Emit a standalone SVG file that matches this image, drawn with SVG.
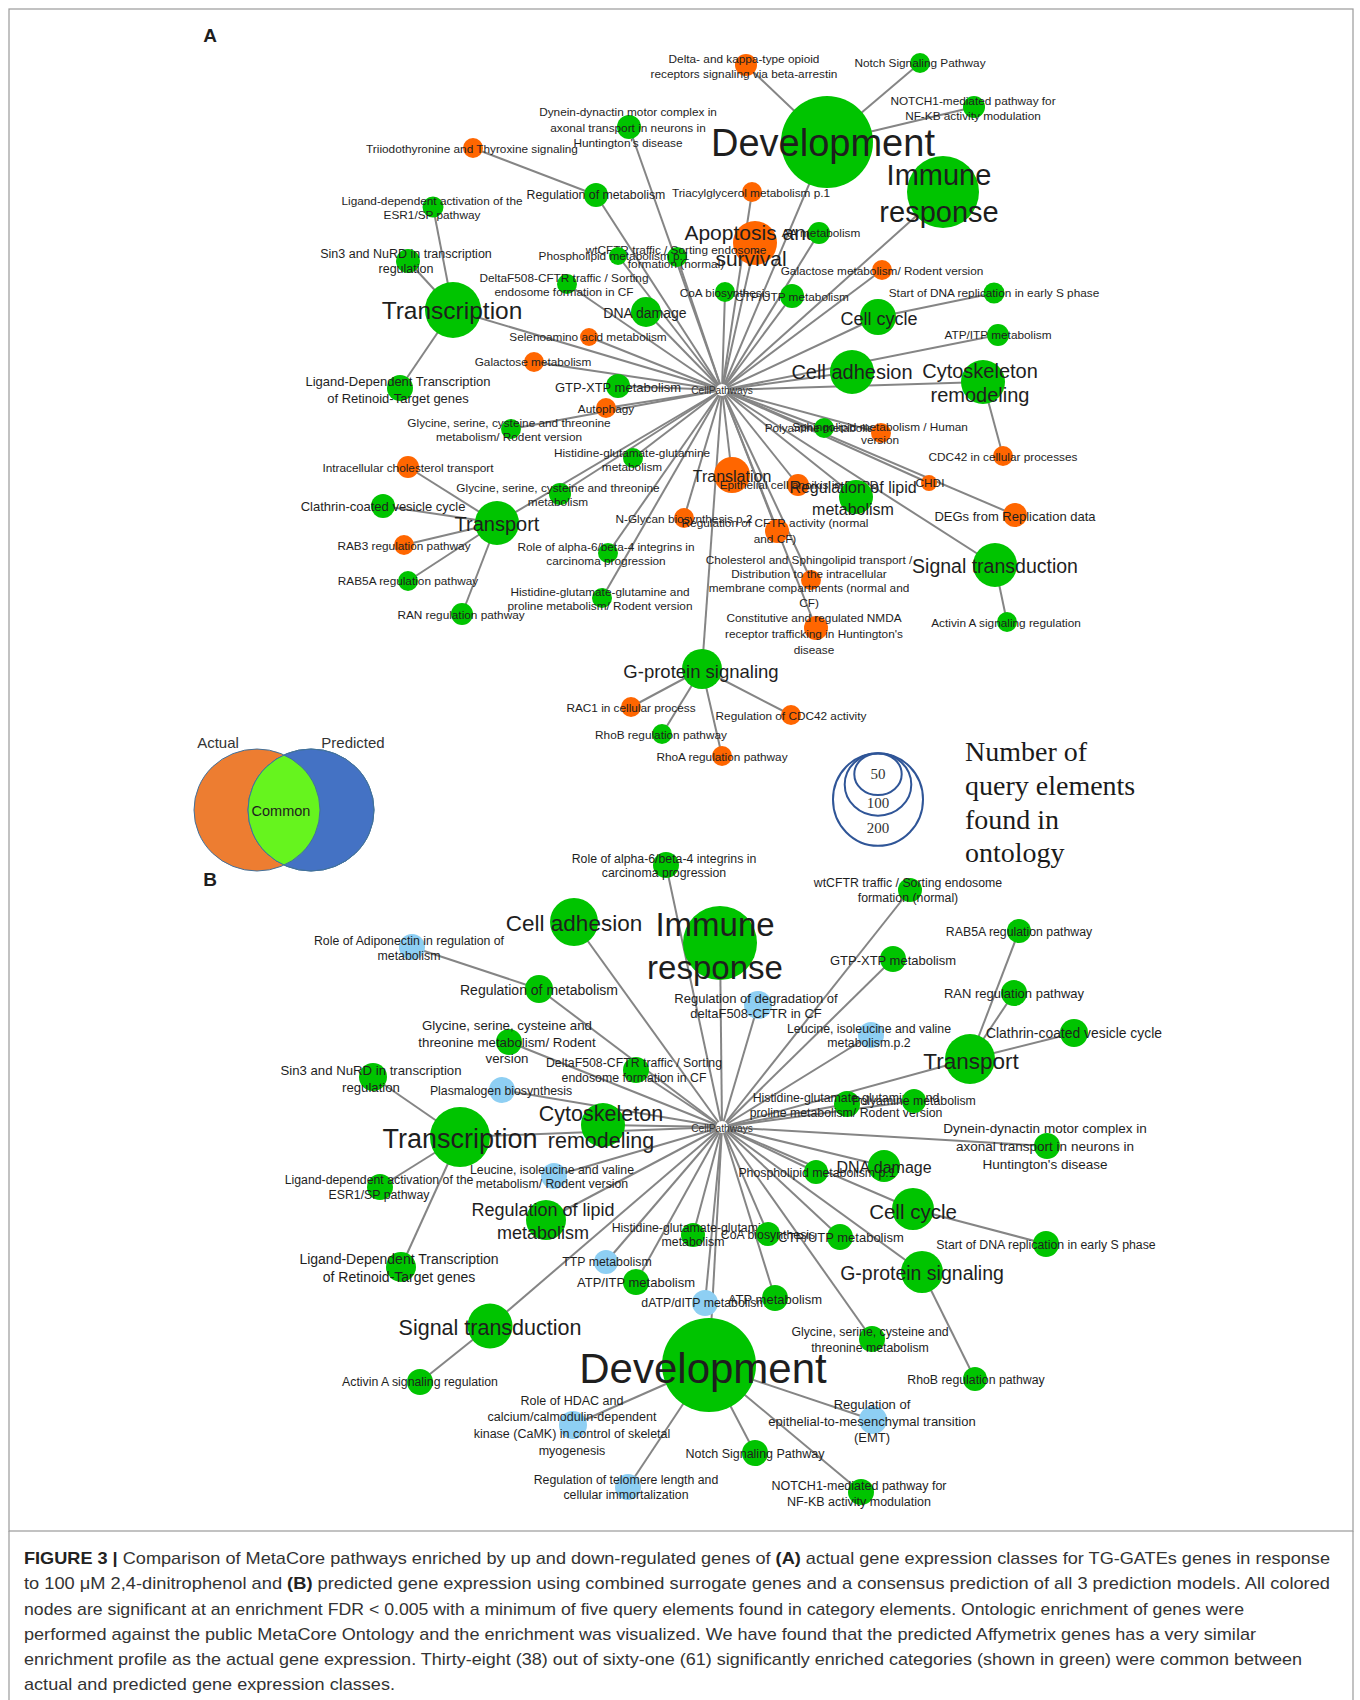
<svg xmlns="http://www.w3.org/2000/svg" width="1360" height="1700" viewBox="0 0 1360 1700">
<defs>
<style>
.e{stroke:#858585;stroke-width:2;fill:none}
.g{fill:#00C400}
.o{fill:#FF6600}
.b{fill:#8ECFF3}
.hub{fill:#ffffff}
text,tspan{font-family:"Liberation Sans",Arial,sans-serif;dominant-baseline:central}
text{fill:#1e1e1e;text-anchor:middle}
.s{font-size:11.8px}
.t{font-size:12.3px}
.hl{font-size:10.2px;fill:#333}
.cap{font-size:17px;fill:#333;text-anchor:start}
.lg{font-family:"Liberation Serif","Times New Roman",serif;font-size:28px;text-anchor:start;fill:#1a1a1a}
.ln{font-family:"Liberation Serif","Times New Roman",serif;font-size:15px;fill:#333}
.ring{fill:none;stroke:#2F5597;stroke-width:2}
.vl{font-size:15px;fill:#333}
</style>
<clipPath id="blueClip"><ellipse cx="311" cy="810" rx="63" ry="61"/></clipPath>
</defs>
<rect x="0" y="0" width="1360" height="1700" fill="#ffffff"/>
<g id="frame" stroke="#9a9a9a" stroke-width="1.2" fill="none">
<rect x="9" y="9" width="1344" height="1522"/>
<line x1="9" y1="1531" x2="9" y2="1700"/>
<line x1="1353" y1="1531" x2="1353" y2="1700"/>
</g>
<text x="210" y="35" font-size="19" font-weight="bold">A</text>
<text x="210" y="879" font-size="19" font-weight="bold">B</text>

<g id="connectors">
<line class="e" x1="722" y1="390" x2="827" y2="142"/>
<line class="e" x1="722" y1="390" x2="943" y2="192"/>
<line class="e" x1="722" y1="390" x2="453" y2="310"/>
<line class="e" x1="722" y1="390" x2="755" y2="243"/>
<line class="e" x1="722" y1="390" x2="497" y2="523"/>
<line class="e" x1="722" y1="390" x2="852" y2="372"/>
<line class="e" x1="722" y1="390" x2="983" y2="382"/>
<line class="e" x1="722" y1="390" x2="995" y2="565"/>
<line class="e" x1="722" y1="390" x2="702" y2="669"/>
<line class="e" x1="722" y1="390" x2="878" y2="317"/>
<line class="e" x1="722" y1="390" x2="732" y2="475"/>
<line class="e" x1="722" y1="390" x2="856" y2="497"/>
<line class="e" x1="722" y1="390" x2="646" y2="312"/>
<line class="e" x1="722" y1="390" x2="629" y2="127"/>
<line class="e" x1="722" y1="390" x2="596" y2="195"/>
<line class="e" x1="722" y1="390" x2="567" y2="284"/>
<line class="e" x1="722" y1="390" x2="618" y2="256"/>
<line class="e" x1="722" y1="390" x2="677" y2="257"/>
<line class="e" x1="722" y1="390" x2="752" y2="192"/>
<line class="e" x1="722" y1="390" x2="819" y2="233"/>
<line class="e" x1="722" y1="390" x2="882" y2="270"/>
<line class="e" x1="722" y1="390" x2="725" y2="292"/>
<line class="e" x1="722" y1="390" x2="792" y2="296"/>
<line class="e" x1="722" y1="390" x2="998" y2="335"/>
<line class="e" x1="722" y1="390" x2="589" y2="337"/>
<line class="e" x1="722" y1="390" x2="534" y2="362"/>
<line class="e" x1="722" y1="390" x2="618" y2="386"/>
<line class="e" x1="722" y1="390" x2="606" y2="408"/>
<line class="e" x1="722" y1="390" x2="511" y2="429"/>
<line class="e" x1="722" y1="390" x2="633" y2="458"/>
<line class="e" x1="722" y1="390" x2="560" y2="494"/>
<line class="e" x1="722" y1="390" x2="684" y2="518"/>
<line class="e" x1="722" y1="390" x2="608" y2="553"/>
<line class="e" x1="722" y1="390" x2="602" y2="598"/>
<line class="e" x1="722" y1="390" x2="824" y2="428"/>
<line class="e" x1="722" y1="390" x2="881" y2="433"/>
<line class="e" x1="722" y1="390" x2="798" y2="485"/>
<line class="e" x1="722" y1="390" x2="929" y2="483"/>
<line class="e" x1="722" y1="390" x2="1015" y2="515"/>
<line class="e" x1="722" y1="390" x2="777" y2="531"/>
<line class="e" x1="722" y1="390" x2="811" y2="580"/>
<line class="e" x1="722" y1="390" x2="816" y2="628"/>
<line class="e" x1="827" y1="142" x2="746" y2="65"/>
<line class="e" x1="827" y1="142" x2="920" y2="63"/>
<line class="e" x1="827" y1="142" x2="974" y2="107"/>
<line class="e" x1="596" y1="195" x2="473" y2="148"/>
<line class="e" x1="453" y1="310" x2="433" y2="207"/>
<line class="e" x1="453" y1="310" x2="408" y2="261"/>
<line class="e" x1="453" y1="310" x2="400" y2="388"/>
<line class="e" x1="497" y1="523" x2="408" y2="467"/>
<line class="e" x1="497" y1="523" x2="383" y2="506"/>
<line class="e" x1="497" y1="523" x2="404" y2="545"/>
<line class="e" x1="497" y1="523" x2="408" y2="581"/>
<line class="e" x1="497" y1="523" x2="462" y2="614"/>
<line class="e" x1="878" y1="317" x2="994" y2="293"/>
<line class="e" x1="983" y1="382" x2="1003" y2="456"/>
<line class="e" x1="995" y1="565" x2="1007" y2="622"/>
<line class="e" x1="702" y1="669" x2="631" y2="707"/>
<line class="e" x1="702" y1="669" x2="791" y2="715"/>
<line class="e" x1="702" y1="669" x2="662" y2="734"/>
<line class="e" x1="702" y1="669" x2="722" y2="756"/>
<line class="e" x1="722" y1="1127" x2="709" y2="1365"/>
<line class="e" x1="722" y1="1127" x2="720" y2="943"/>
<line class="e" x1="722" y1="1127" x2="460" y2="1137"/>
<line class="e" x1="722" y1="1127" x2="970" y2="1059"/>
<line class="e" x1="722" y1="1127" x2="574" y2="922"/>
<line class="e" x1="722" y1="1127" x2="603" y2="1125"/>
<line class="e" x1="722" y1="1127" x2="490" y2="1326"/>
<line class="e" x1="722" y1="1127" x2="913" y2="1209"/>
<line class="e" x1="722" y1="1127" x2="922" y2="1272"/>
<line class="e" x1="722" y1="1127" x2="546" y2="1220"/>
<line class="e" x1="722" y1="1127" x2="884" y2="1166"/>
<line class="e" x1="722" y1="1127" x2="666" y2="865"/>
<line class="e" x1="722" y1="1127" x2="539" y2="989"/>
<line class="e" x1="722" y1="1127" x2="509" y2="1042"/>
<line class="e" x1="722" y1="1127" x2="502" y2="1090"/>
<line class="e" x1="722" y1="1127" x2="636" y2="1070"/>
<line class="e" x1="722" y1="1127" x2="910" y2="890"/>
<line class="e" x1="722" y1="1127" x2="893" y2="959"/>
<line class="e" x1="722" y1="1127" x2="758" y2="1005"/>
<line class="e" x1="722" y1="1127" x2="871" y2="1035"/>
<line class="e" x1="722" y1="1127" x2="847" y2="1104"/>
<line class="e" x1="722" y1="1127" x2="914" y2="1101"/>
<line class="e" x1="722" y1="1127" x2="1047" y2="1146"/>
<line class="e" x1="722" y1="1127" x2="816" y2="1172"/>
<line class="e" x1="722" y1="1127" x2="693" y2="1235"/>
<line class="e" x1="722" y1="1127" x2="768" y2="1234"/>
<line class="e" x1="722" y1="1127" x2="840" y2="1237"/>
<line class="e" x1="722" y1="1127" x2="636" y2="1282"/>
<line class="e" x1="722" y1="1127" x2="606" y2="1262"/>
<line class="e" x1="722" y1="1127" x2="705" y2="1303"/>
<line class="e" x1="722" y1="1127" x2="775" y2="1298"/>
<line class="e" x1="722" y1="1127" x2="872" y2="1339"/>
<line class="e" x1="722" y1="1127" x2="554" y2="1176"/>
<line class="e" x1="539" y1="989" x2="412" y2="947"/>
<line class="e" x1="460" y1="1137" x2="373" y2="1077"/>
<line class="e" x1="460" y1="1137" x2="380" y2="1187"/>
<line class="e" x1="460" y1="1137" x2="401" y2="1267"/>
<line class="e" x1="970" y1="1059" x2="1019" y2="931"/>
<line class="e" x1="970" y1="1059" x2="1014" y2="993"/>
<line class="e" x1="970" y1="1059" x2="1074" y2="1033"/>
<line class="e" x1="913" y1="1209" x2="1046" y2="1244"/>
<line class="e" x1="922" y1="1272" x2="975" y2="1379"/>
<line class="e" x1="490" y1="1326" x2="420" y2="1382"/>
<line class="e" x1="709" y1="1365" x2="573" y2="1425"/>
<line class="e" x1="709" y1="1365" x2="628" y2="1487"/>
<line class="e" x1="709" y1="1365" x2="755" y2="1453"/>
<line class="e" x1="709" y1="1365" x2="861" y2="1492"/>
<line class="e" x1="709" y1="1365" x2="873" y2="1420"/>
</g>

<g id="a-hub"><circle class="hub" cx="722" cy="390" r="6"/><text class="hl" x="722" y="390">CellPathways</text></g>
<g id="a-development"><circle class="g" cx="827" cy="142" r="46"/><text x="823" y="143" font-size="38">Development</text></g>
<g id="a-immune"><circle class="g" cx="943" cy="192" r="36"/><text font-size="29"><tspan x="939" y="175">Immune</tspan><tspan x="939" y="212">response</tspan></text></g>
<g id="a-transcription"><circle class="g" cx="453" cy="310" r="28"/><text x="452" y="310" font-size="24.5">Transcription</text></g>
<g id="a-apoptosis"><circle class="o" cx="755" cy="243" r="22"/><text font-size="21"><tspan x="751" y="232">Apoptosis and</tspan><tspan x="751" y="258">survival</tspan></text></g>
<g id="a-transport"><circle class="g" cx="497" cy="523" r="22"/><text x="497" y="524" font-size="20">Transport</text></g>
<g id="a-celladhesion"><circle class="g" cx="852" cy="372" r="22"/><text x="852" y="372" font-size="20">Cell adhesion</text></g>
<g id="a-cytoskeleton"><circle class="g" cx="983" cy="382" r="22"/><text font-size="20"><tspan x="980" y="371">Cytoskeleton</tspan><tspan x="980" y="395">remodeling</tspan></text></g>
<g id="a-signal"><circle class="g" cx="995" cy="565" r="22"/><text x="995" y="566" font-size="19.5">Signal transduction</text></g>
<g id="a-gprotein"><circle class="g" cx="702" cy="669" r="20"/><text x="701" y="671" font-size="18.5">G-protein signaling</text></g>
<g id="a-cellcycle"><circle class="g" cx="878" cy="317" r="18"/><text x="879" y="319" font-size="18">Cell cycle</text></g>
<g id="a-translation"><circle class="o" cx="732" cy="475" r="18"/><text x="732" y="476" font-size="16">Translation</text></g>
<g id="a-epithelial"><circle class="o" cx="798" cy="485" r="11"/><text class="s" x="799" y="485">Epithelial cell anoikis in COPD</text></g>
<g id="a-reglipid"><circle class="g" cx="856" cy="497" r="17"/><text font-size="16"><tspan x="853" y="487">Regulation of lipid</tspan><tspan x="853" y="509">metabolism</tspan></text></g>
<g id="a-dnadamage"><circle class="g" cx="646" cy="312" r="15"/><text x="645" y="313" font-size="14">DNA damage</text></g>
<g id="a-delta"><circle class="o" cx="746" cy="65" r="11"/><text class="s"><tspan x="744" y="59">Delta- and kappa-type opioid</tspan><tspan x="744" y="74">receptors signaling via beta-arrestin</tspan></text></g>
<g id="a-notch"><circle class="g" cx="920" cy="63" r="10"/><text class="s" x="920" y="63">Notch Signaling Pathway</text></g>
<g id="a-notch1"><circle class="g" cx="974" cy="107" r="11"/><text class="s"><tspan x="973" y="101">NOTCH1-mediated pathway for</tspan><tspan x="973" y="116">NF-KB activity modulation</tspan></text></g>
<g id="a-triiodo"><circle class="o" cx="473" cy="148" r="10"/><text class="s" x="472" y="149">Triiodothyronine and Thyroxine signaling</text></g>
<g id="a-dynein"><circle class="g" cx="629" cy="127" r="12"/><text class="s"><tspan x="628" y="112">Dynein-dynactin motor complex in</tspan><tspan x="628" y="128">axonal transport in neurons in</tspan><tspan x="628" y="143">Huntington's disease</tspan></text></g>
<g id="a-regmetab"><circle class="g" cx="596" cy="195" r="12"/><text x="596" y="195" font-size="12.3">Regulation of metabolism</text></g>
<g id="a-esr1"><circle class="g" cx="433" cy="207" r="10.5"/><text class="s"><tspan x="432" y="201">Ligand-dependent activation of the</tspan><tspan x="432" y="215">ESR1/SP pathway</tspan></text></g>
<g id="a-sin3"><circle class="g" cx="408" cy="261" r="12"/><text font-size="12.5"><tspan x="406" y="254">Sin3 and NuRD in transcription</tspan><tspan x="406" y="269">regulation</tspan></text></g>
<g id="a-deltaf508"><circle class="g" cx="567" cy="284" r="10"/><text class="s"><tspan x="564" y="278">DeltaF508-CFTR traffic / Sorting</tspan><tspan x="564" y="292">endosome formation in CF</tspan></text></g>
<g id="a-wtcftr"><circle class="g" cx="677" cy="257" r="10"/><text class="s"><tspan x="676" y="250">wtCFTR traffic / Sorting endosome</tspan><tspan x="676" y="264">formation (normal)</tspan></text></g>
<g id="a-phospholipid"><circle class="g" cx="618" cy="256" r="9"/><text class="s" x="614" y="256">Phospholipid metabolism p.1</text></g>
<g id="a-triacyl"><circle class="o" cx="752" cy="192" r="10"/><text class="s" x="751" y="193">Triacylglycerol metabolism p.1</text></g>
<g id="a-aametab"><circle class="g" cx="819" cy="233" r="11"/><text class="s" x="821" y="233">AA metabolism</text></g>
<g id="a-galrodent"><circle class="o" cx="882" cy="270" r="10"/><text class="s" x="882" y="271">Galactose metabolism/ Rodent version</text></g>
<g id="a-coa"><circle class="g" cx="725" cy="292" r="10"/><text class="s" x="725" y="293">CoA biosynthesis</text></g>
<g id="a-ctputp"><circle class="g" cx="792" cy="296" r="12"/><text class="s" x="792" y="297">CTP/UTP metabolism</text></g>
<g id="a-startdna"><circle class="g" cx="994" cy="293" r="10.5"/><text class="s" x="994" y="293">Start of DNA replication in early S phase</text></g>
<g id="a-atpitp"><circle class="g" cx="998" cy="335" r="11"/><text class="s" x="998" y="335">ATP/ITP metabolism</text></g>
<g id="a-seleno"><circle class="o" cx="589" cy="337" r="9"/><text class="s" x="588" y="337">Selenoamino acid metabolism</text></g>
<g id="a-galactose"><circle class="o" cx="534" cy="362" r="10"/><text class="s" x="533" y="362">Galactose metabolism</text></g>
<g id="a-ligandret"><circle class="g" cx="400" cy="388" r="13"/><text font-size="13"><tspan x="398" y="381">Ligand-Dependent Transcription</tspan><tspan x="398" y="398">of Retinoid-Target genes</tspan></text></g>
<g id="a-gtpxtp"><circle class="g" cx="618" cy="386" r="12"/><text x="618" y="387" font-size="13">GTP-XTP metabolism</text></g>
<g id="a-autophagy"><circle class="o" cx="606" cy="408" r="10"/><text class="s" x="606" y="409">Autophagy</text></g>
<g id="a-glyrodent"><circle class="g" cx="511" cy="429" r="10"/><text class="s"><tspan x="509" y="423">Glycine, serine, cysteine and threonine</tspan><tspan x="509" y="437">metabolism/ Rodent version</tspan></text></g>
<g id="a-histidine"><circle class="g" cx="633" cy="458" r="10"/><text class="s"><tspan x="632" y="453">Histidine-glutamate-glutamine</tspan><tspan x="632" y="467">metabolism</tspan></text></g>
<g id="a-intrachol"><circle class="o" cx="408" cy="467" r="11"/><text class="s" x="408" y="468">Intracellular cholesterol transport</text></g>
<g id="a-glythr"><circle class="g" cx="560" cy="494" r="11"/><text class="s"><tspan x="558" y="488">Glycine, serine, cysteine and threonine</tspan><tspan x="558" y="502">metabolism</tspan></text></g>
<g id="a-clathrin"><circle class="g" cx="383" cy="506" r="12"/><text x="383" y="506" font-size="13">Clathrin-coated vesicle cycle</text></g>
<g id="a-rab3"><circle class="o" cx="404" cy="545" r="10"/><text class="s" x="404" y="546">RAB3 regulation pathway</text></g>
<g id="a-rab5a"><circle class="g" cx="408" cy="581" r="10"/><text class="s" x="408" y="581">RAB5A regulation pathway</text></g>
<g id="a-ran"><circle class="g" cx="462" cy="614" r="11"/><text class="s" x="461" y="615">RAN regulation pathway</text></g>
<g id="a-nglycan"><circle class="o" cx="684" cy="518" r="10"/><text class="s" x="684" y="519">N-Glycan biosynthesis p.2</text></g>
<g id="a-alpha6"><circle class="g" cx="608" cy="553" r="10"/><text class="s"><tspan x="606" y="547">Role of alpha-6/beta-4 integrins in</tspan><tspan x="606" y="561">carcinoma progression</tspan></text></g>
<g id="a-hisproline"><circle class="g" cx="602" cy="598" r="10"/><text class="s"><tspan x="600" y="592">Histidine-glutamate-glutamine and</tspan><tspan x="600" y="606">proline metabolism/ Rodent version</tspan></text></g>
<g id="a-polyamine"><circle class="g" cx="824" cy="428" r="10"/><text class="s" x="824" y="428">Polyamine metabolism</text></g>
<g id="a-sphingo"><circle class="o" cx="881" cy="433" r="10"/><text class="s"><tspan x="880" y="427">Sphingolipid metabolism / Human</tspan><tspan x="880" y="440">version</tspan></text></g>
<g id="a-cdc42cell"><circle class="o" cx="1003" cy="456" r="10"/><text class="s" x="1003" y="457">CDC42 in cellular processes</text></g>
<g id="a-chdi"><circle class="o" cx="929" cy="483" r="8"/><text class="s" x="930" y="483">CHDI</text></g>
<g id="a-degs"><circle class="o" cx="1015" cy="515" r="12"/><text x="1015" y="516" font-size="13">DEGs from Replication data</text></g>
<g id="a-regcftr"><circle class="o" cx="777" cy="531" r="12"/><text class="s"><tspan x="775" y="523">Regulation of CFTR activity (normal</tspan><tspan x="775" y="539">and CF)</tspan></text></g>
<g id="a-cholsphingo"><circle class="o" cx="811" cy="580" r="10"/><text class="s"><tspan x="809" y="560">Cholesterol and Sphingolipid transport /</tspan><tspan x="809" y="574">Distribution to the intracellular</tspan><tspan x="809" y="588">membrane compartments (normal and</tspan><tspan x="809" y="603">CF)</tspan></text></g>
<g id="a-nmda"><circle class="o" cx="816" cy="628" r="12"/><text class="s"><tspan x="814" y="618">Constitutive and regulated NMDA</tspan><tspan x="814" y="634">receptor trafficking in Huntington's</tspan><tspan x="814" y="650">disease</tspan></text></g>
<g id="a-activin"><circle class="g" cx="1007" cy="622" r="10"/><text class="s" x="1006" y="623">Activin A signaling regulation</text></g>
<g id="a-rac1"><circle class="o" cx="631" cy="707" r="10"/><text class="s" x="631" y="708">RAC1 in cellular process</text></g>
<g id="a-regcdc42"><circle class="o" cx="791" cy="715" r="10"/><text class="s" x="791" y="716">Regulation of CDC42 activity</text></g>
<g id="a-rhob"><circle class="g" cx="662" cy="734" r="10"/><text class="s" x="661" y="735">RhoB regulation pathway</text></g>
<g id="a-rhoa"><circle class="o" cx="722" cy="756" r="10"/><text class="s" x="722" y="757">RhoA regulation pathway</text></g>

<g id="venn">
<ellipse cx="257" cy="810" rx="63" ry="61" fill="#ED7D31" stroke="#41719C" stroke-width="1"/>
<ellipse cx="311" cy="810" rx="63" ry="61" fill="#4472C4" stroke="#41719C" stroke-width="1"/>
<ellipse cx="257" cy="810" rx="63" ry="61" fill="#66F41E" stroke="#41719C" stroke-width="1" clip-path="url(#blueClip)"/>
<ellipse cx="311" cy="810" rx="63" ry="61" fill="none" stroke="#41719C" stroke-width="1"/>
<text class="vl" x="218" y="742">Actual</text>
<text class="vl" x="353" y="742">Predicted</text>
<text x="281" y="811" font-size="14.5" fill="#222">Common</text>
</g>
<g id="size-legend">
<ellipse class="ring" cx="878" cy="799.5" rx="45" ry="46.3"/>
<ellipse class="ring" cx="878" cy="784.5" rx="33.3" ry="31.2"/>
<ellipse class="ring" cx="878" cy="774.2" rx="23.7" ry="20.8"/>
<text class="ln" x="878" y="774">50</text>
<text class="ln" x="878" y="803">100</text>
<text class="ln" x="878" y="828">200</text>
<text class="lg" x="965" y="751">Number of</text>
<text class="lg" x="965" y="785">query elements</text>
<text class="lg" x="965" y="819">found in</text>
<text class="lg" x="965" y="852">ontology</text>
</g>

<g id="b-hub"><circle class="hub" cx="722" cy="1127" r="6"/><text class="hl" x="722" y="1128">CellPathways</text></g>
<g id="b-development"><circle class="g" cx="709" cy="1365" r="47"/><text x="703" y="1368" font-size="42">Development</text></g>
<g id="b-immune"><circle class="g" cx="720" cy="943" r="37"/><text font-size="33"><tspan x="715" y="924">Immune</tspan><tspan x="715" y="967">response</tspan></text></g>
<g id="b-transcription"><circle class="g" cx="460" cy="1137" r="30"/><text x="460" y="1139" font-size="27">Transcription</text></g>
<g id="b-transport"><circle class="g" cx="970" cy="1059" r="25"/><text x="971" y="1061" font-size="22.5">Transport</text></g>
<g id="b-celladhesion"><circle class="g" cx="574" cy="922" r="24"/><text x="574" y="923" font-size="22.5">Cell adhesion</text></g>
<g id="b-cytoskeleton"><circle class="g" cx="603" cy="1125" r="22"/><text font-size="21.5"><tspan x="601" y="1114">Cytoskeleton</tspan><tspan x="601" y="1141">remodeling</tspan></text></g>
<g id="b-signal"><circle class="g" cx="490" cy="1326" r="22.5"/><text x="490" y="1328" font-size="21.5">Signal transduction</text></g>
<g id="b-cellcycle"><circle class="g" cx="913" cy="1209" r="21"/><text x="913" y="1211" font-size="20.5">Cell cycle</text></g>
<g id="b-gprotein"><circle class="g" cx="922" cy="1272" r="21"/><text x="922" y="1273" font-size="19.5">G-protein signaling</text></g>
<g id="b-reglipid"><circle class="g" cx="546" cy="1220" r="20"/><text font-size="18"><tspan x="543" y="1210">Regulation of lipid</tspan><tspan x="543" y="1233">metabolism</tspan></text></g>
<g id="b-dnadamage"><circle class="g" cx="884" cy="1166" r="16"/><text x="884" y="1167" font-size="16">DNA damage</text></g>
<g id="b-alpha6"><circle class="g" cx="666" cy="865" r="13"/><text class="t"><tspan x="664" y="859">Role of alpha-6/beta-4 integrins in</tspan><tspan x="664" y="873">carcinoma progression</tspan></text></g>
<g id="b-adiponectin"><circle class="b" cx="412" cy="947" r="13"/><text class="t"><tspan x="409" y="941">Role of Adiponectin in regulation of</tspan><tspan x="409" y="956">metabolism</tspan></text></g>
<g id="b-regmetab"><circle class="g" cx="539" cy="989" r="14"/><text x="539" y="990" font-size="14">Regulation of metabolism</text></g>
<g id="b-glyrodent"><circle class="g" cx="509" cy="1042" r="13"/><text font-size="13.3"><tspan x="507" y="1025">Glycine, serine, cysteine and</tspan><tspan x="507" y="1042">threonine metabolism/ Rodent</tspan><tspan x="507" y="1058">version</tspan></text></g>
<g id="b-sin3"><circle class="g" cx="373" cy="1077" r="14"/><text font-size="13.2"><tspan x="371" y="1070">Sin3 and NuRD in transcription</tspan><tspan x="371" y="1087">regulation</tspan></text></g>
<g id="b-plasmalogen"><circle class="b" cx="502" cy="1090" r="13"/><text class="t" x="501" y="1091">Plasmalogen biosynthesis</text></g>
<g id="b-deltaf508"><circle class="g" cx="636" cy="1070" r="13"/><text class="t"><tspan x="634" y="1063">DeltaF508-CFTR traffic / Sorting</tspan><tspan x="634" y="1078">endosome formation in CF</tspan></text></g>
<g id="b-wtcftr"><circle class="g" cx="910" cy="890" r="12"/><text class="t"><tspan x="908" y="883">wtCFTR traffic / Sorting endosome</tspan><tspan x="908" y="898">formation (normal)</tspan></text></g>
<g id="b-rab5a"><circle class="g" cx="1019" cy="931" r="12"/><text class="t" x="1019" y="932">RAB5A regulation pathway</text></g>
<g id="b-gtpxtp"><circle class="g" cx="893" cy="959" r="13"/><text x="893" y="960" font-size="13">GTP-XTP metabolism</text></g>
<g id="b-regdeg"><circle class="b" cx="758" cy="1005" r="14"/><text font-size="13"><tspan x="756" y="998">Regulation of degradation of</tspan><tspan x="756" y="1013">deltaF508-CFTR in CF</tspan></text></g>
<g id="b-ran"><circle class="g" cx="1014" cy="993" r="13"/><text x="1014" y="993" font-size="13">RAN regulation pathway</text></g>
<g id="b-leucinep2"><circle class="b" cx="871" cy="1035" r="13"/><text class="t"><tspan x="869" y="1029">Leucine, isoleucine and valine</tspan><tspan x="869" y="1043">metabolism.p.2</tspan></text></g>
<g id="b-clathrin"><circle class="g" cx="1074" cy="1033" r="14"/><text x="1074" y="1033" font-size="13.9">Clathrin-coated vesicle cycle</text></g>
<g id="b-hisproline"><circle class="g" cx="847" cy="1104" r="13"/><text class="t"><tspan x="846" y="1098">Histidine-glutamate-glutamine and</tspan><tspan x="846" y="1113">proline metabolism/ Rodent version</tspan></text></g>
<g id="b-polyamine"><circle class="g" cx="914" cy="1101" r="12"/><text class="t" x="914" y="1101">Polyamine metabolism</text></g>
<g id="b-dynein"><circle class="g" cx="1047" cy="1146" r="13"/><text font-size="13.5"><tspan x="1045" y="1128">Dynein-dynactin motor complex in</tspan><tspan x="1045" y="1146">axonal transport in neurons in</tspan><tspan x="1045" y="1164">Huntington's disease</tspan></text></g>
<g id="b-phospholipid"><circle class="g" cx="816" cy="1172" r="12"/><text class="t" x="817" y="1173">Phospholipid metabolism p.1</text></g>
<g id="b-histidine"><circle class="g" cx="693" cy="1235" r="12"/><text class="t"><tspan x="693" y="1228">Histidine-glutamate-glutamine</tspan><tspan x="693" y="1242">metabolism</tspan></text></g>
<g id="b-coa"><circle class="g" cx="768" cy="1234" r="12"/><text class="t" x="768" y="1235">CoA biosynthesis</text></g>
<g id="b-ctputp"><circle class="g" cx="840" cy="1237" r="13"/><text x="841" y="1237" font-size="13">CTP/UTP metabolism</text></g>
<g id="b-startdna"><circle class="g" cx="1046" cy="1244" r="13"/><text class="t" x="1046" y="1245">Start of DNA replication in early S phase</text></g>
<g id="b-ttp"><circle class="b" cx="606" cy="1262" r="12"/><text class="t" x="607" y="1262">TTP metabolism</text></g>
<g id="b-atpitp"><circle class="g" cx="636" cy="1282" r="13"/><text x="636" y="1282" font-size="13">ATP/ITP metabolism</text></g>
<g id="b-datp"><circle class="b" cx="705" cy="1303" r="13"/><text class="t" x="704" y="1303">dATP/dITP metabolism</text></g>
<g id="b-atp"><circle class="g" cx="775" cy="1298" r="13"/><text x="775" y="1299" font-size="13">ATP metabolism</text></g>
<g id="b-glythr"><circle class="g" cx="872" cy="1339" r="13"/><text class="t"><tspan x="870" y="1332">Glycine, serine, cysteine and</tspan><tspan x="870" y="1348">threonine metabolism</tspan></text></g>
<g id="b-rhob"><circle class="g" cx="975" cy="1379" r="12"/><text class="t" x="976" y="1380">RhoB regulation pathway</text></g>
<g id="b-emt"><circle class="b" cx="873" cy="1420" r="14"/><text font-size="13"><tspan x="872" y="1404">Regulation of</tspan><tspan x="872" y="1421">epithelial-to-mesenchymal transition</tspan><tspan x="872" y="1437">(EMT)</tspan></text></g>
<g id="b-notch"><circle class="g" cx="755" cy="1453" r="13"/><text x="755" y="1454" font-size="12.5">Notch Signaling Pathway</text></g>
<g id="b-notch1"><circle class="g" cx="861" cy="1492" r="13"/><text font-size="12.5"><tspan x="859" y="1486">NOTCH1-mediated pathway for</tspan><tspan x="859" y="1502">NF-KB activity modulation</tspan></text></g>
<g id="b-esr1"><circle class="g" cx="380" cy="1187" r="13"/><text class="t"><tspan x="379" y="1180">Ligand-dependent activation of the</tspan><tspan x="379" y="1195">ESR1/SP pathway</tspan></text></g>
<g id="b-leucinerodent"><circle class="b" cx="554" cy="1176" r="13"/><text class="t"><tspan x="552" y="1170">Leucine, isoleucine and valine</tspan><tspan x="552" y="1184">metabolism/ Rodent version</tspan></text></g>
<g id="b-ligandret"><circle class="g" cx="401" cy="1267" r="15"/><text font-size="14"><tspan x="399" y="1259">Ligand-Dependent Transcription</tspan><tspan x="399" y="1277">of Retinoid-Target genes</tspan></text></g>
<g id="b-activin"><circle class="g" cx="420" cy="1382" r="13"/><text x="420" y="1382" font-size="12.3">Activin A signaling regulation</text></g>
<g id="b-hdac"><circle class="b" cx="573" cy="1425" r="14"/><text font-size="12.5"><tspan x="572" y="1401">Role of HDAC and</tspan><tspan x="572" y="1417">calcium/calmodulin-dependent</tspan><tspan x="572" y="1434">kinase (CaMK) in control of skeletal</tspan><tspan x="572" y="1451">myogenesis</tspan></text></g>
<g id="b-telomere"><circle class="b" cx="628" cy="1487" r="13"/><text class="t"><tspan x="626" y="1480">Regulation of telomere length and</tspan><tspan x="626" y="1495">cellular immortalization</tspan></text></g>

<g id="caption">
<text class="cap" x="24" y="1558" textLength="1306" lengthAdjust="spacingAndGlyphs"><tspan font-weight="bold" fill="#222">FIGURE 3 |</tspan> Comparison of MetaCore pathways enriched by up and down-regulated genes of <tspan font-weight="bold" fill="#222">(A)</tspan> actual gene expression classes for TG-GATEs genes in response</text>
<text class="cap" x="24" y="1583" textLength="1306" lengthAdjust="spacingAndGlyphs">to 100 μM 2,4-dinitrophenol and <tspan font-weight="bold" fill="#222">(B)</tspan> predicted gene expression using combined surrogate genes and a consensus prediction of all 3 prediction models. All colored</text>
<text class="cap" x="24" y="1609" textLength="1220" lengthAdjust="spacingAndGlyphs">nodes are significant at an enrichment FDR &lt; 0.005 with a minimum of five query elements found in category elements. Ontologic enrichment of genes were</text>
<text class="cap" x="24" y="1634" textLength="1232" lengthAdjust="spacingAndGlyphs">performed against the public MetaCore Ontology and the enrichment was visualized. We have found that the predicted Affymetrix genes has a very similar</text>
<text class="cap" x="24" y="1659" textLength="1278" lengthAdjust="spacingAndGlyphs">enrichment profile as the actual gene expression. Thirty-eight (38) out of sixty-one (61) significantly enriched categories (shown in green) were common between</text>
<text class="cap" x="24" y="1684" textLength="371" lengthAdjust="spacingAndGlyphs">actual and predicted gene expression classes.</text>
</g>
</svg>
